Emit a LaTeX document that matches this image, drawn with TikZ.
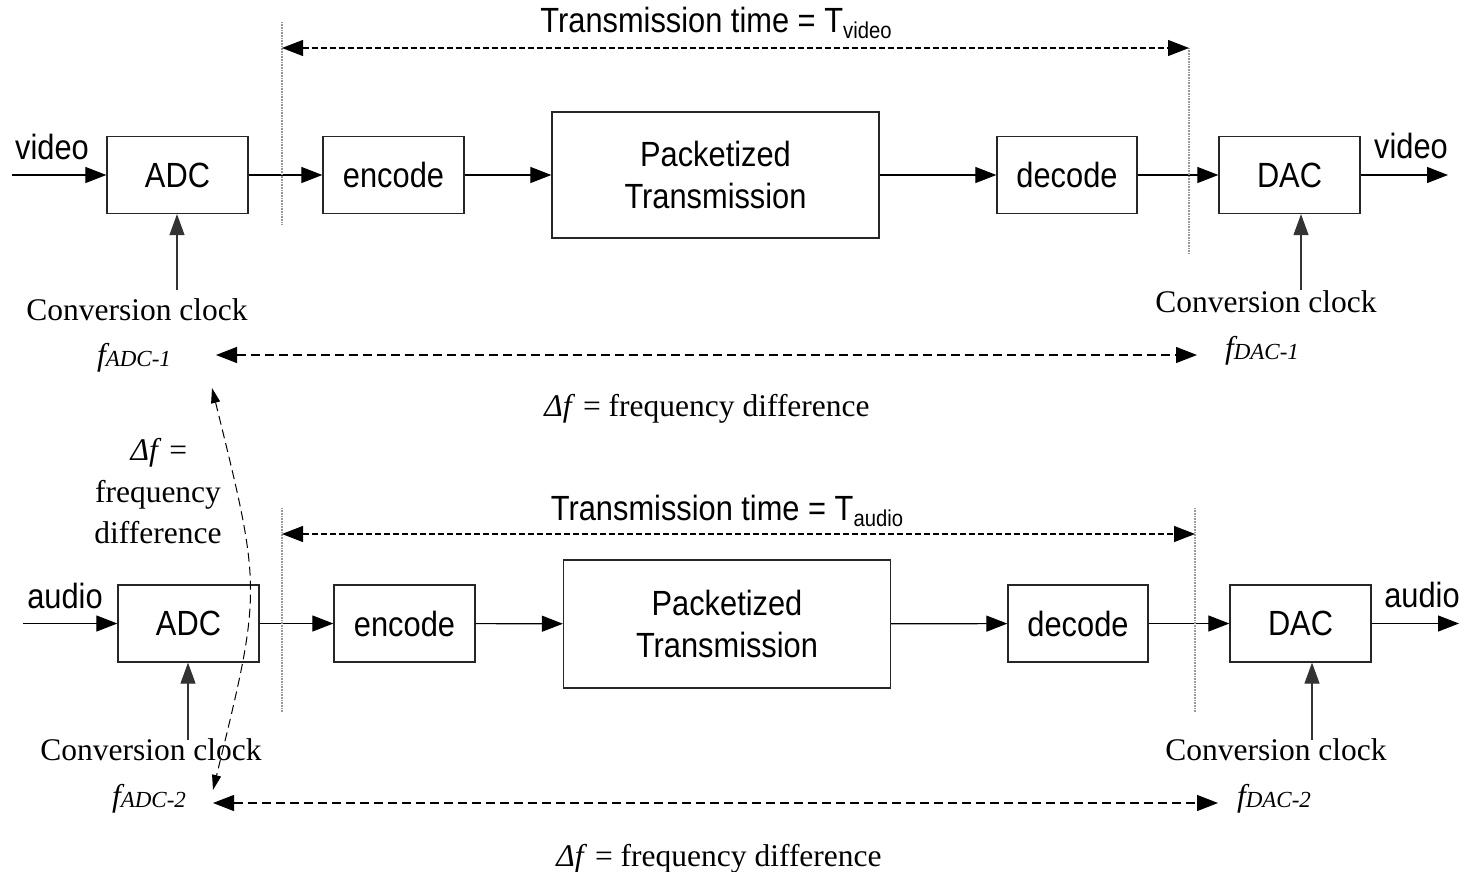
\documentclass[tikz,border=0pt]{standalone}
\usepackage{fontspec}
\setmainfont{Liberation Serif}
\setsansfont[FakeStretch=0.88]{Liberation Sans}
\usetikzlibrary{arrows.meta}
\begin{document}
\begin{tikzpicture}[x=1pt,y=-1pt,
  box/.style={draw=black!85, line width=1.3pt, minimum width=141pt, minimum height=77pt,
    font=\sffamily\fontsize{35}{42}\selectfont, inner sep=0pt, align=center},
  sig/.style={draw, line width=1.2pt, -{Triangle[length=21pt,width=16pt]}},
  clk/.style={draw=black!80, line width=1.2pt, -{Triangle[length=21pt,width=15pt]}},
  lab/.style={font=\sffamily\fontsize{35}{42}\selectfont, anchor=base, inner sep=0pt},
  ser/.style={font=\fontsize{31.5}{41}\selectfont, anchor=base, inner sep=0pt, align=center},
  tdash/.style={draw, line width=1.1pt, dash pattern=on 6pt off 3pt,
    {Triangle[length=21pt,width=16pt]}-{Triangle[length=21pt,width=16pt]}},
  fdash/.style={draw, line width=1.1pt, dash pattern=on 9pt off 5pt,
    {Triangle[length=21pt,width=16pt]}-{Triangle[length=21pt,width=16pt]}},
  cdash/.style={draw, line width=1pt, dash pattern=on 9pt off 5pt,
    {Triangle[length=15pt,width=9pt]}-{Triangle[length=15pt,width=9pt]}},
  vline/.style={draw=gray!80, line width=1.2pt, dash pattern=on 1pt off 0.6pt},
]
\useasboundingbox (0,0) rectangle (1466,872);

% ---------------- video row ----------------
\node[box] (adc1) at (177.5,175) {ADC};
\node[box] (enc1) at (393.5,175) {encode};
\node[box, minimum width=327pt, minimum height=126pt] (pkt1) at (715.5,175) {Packetized\\Transmission};
\node[box, minimum width=140pt] (dec1) at (1067,175) {decode};
\node[box] (dac1) at (1289.5,175) {DAC};

\coordinate (vin1) at (12,175);
\coordinate (vout1) at (1448,175);
\node[lab] (vlab1) at (52,159) {video};
\node[lab] (vlab2) at (1411,158) {video};
\draw[sig] (vin1) -- (adc1);
\draw[sig] (adc1) -- (enc1);
\draw[sig] (enc1) -- (pkt1);
\draw[sig] (pkt1) -- (dec1);
\draw[sig] (dec1) -- (dac1);
\draw[sig] (dac1) -- (vout1);

\coordinate (l1t) at (282,22);
\coordinate (l1b) at (282,225);
\coordinate (r1t) at (1189,48);
\coordinate (r1b) at (1189,253);
\draw[vline] (l1t) -- (l1b);
\draw[vline] (r1t) -- (r1b);
\coordinate (t1a) at (282,48);
\draw[tdash] (t1a) -- (r1t);
\node[lab] (tt1) at (716,33) {Transmission time = T\raisebox{-6pt}{\fontsize{23}{26}\selectfont video}};

\node[ser] (cc1) at (137,320) {Conversion clock};
\node[ser] (cc2) at (1266,312) {Conversion clock};
\coordinate (ck1) at (177,290);
\coordinate (ck2) at (1301,290);
\draw[clk] (ck1) -- (adc1.south -| ck1);
\draw[clk] (ck2) -- (dac1.south -| ck2);

\node[ser] (fa1) at (134,365) {\itshape f\raisebox{-1pt}{\fontsize{23}{26}\selectfont ADC-1}};
\node[ser] (fd1) at (1262,358) {\itshape f\raisebox{-1pt}{\fontsize{23}{26}\selectfont DAC-1}};
\coordinate (fa1e) at (216,355);
\coordinate (fd1e) at (1197,355);
\draw[fdash] (fa1e) -- (fd1e);
\node[ser] (df1) at (707,416) {\textit{Δf} = frequency difference};

% ---------------- audio row ----------------
\node[box] (adc2) at (188.5,623.5) {ADC};
\node[box] (enc2) at (404.5,623.5) {encode};
\node[box, minimum width=327pt, minimum height=128pt] (pkt2) at (727,624) {Packetized\\Transmission};
\node[box, minimum width=140pt] (dec2) at (1078,623.5) {decode};
\node[box] (dac2) at (1300.5,623.5) {DAC};

\coordinate (ain2) at (23,623.5);
\coordinate (aout2) at (1459,623.5);
\node[lab] (alab1) at (65,608) {audio};
\node[lab] (alab2) at (1422,607) {audio};
\draw[sig] (ain2) -- (adc2);
\draw[sig] (adc2) -- (enc2);
\draw[sig] (enc2) -- (pkt2);
\draw[sig] (pkt2) -- (dec2);
\draw[sig] (dec2) -- (dac2);
\draw[sig] (dac2) -- (aout2);

\coordinate (l2t) at (282,508);
\coordinate (l2b) at (282,712);
\coordinate (r2t) at (1195,508);
\coordinate (r2b) at (1195,712);
\draw[vline] (l2t) -- (l2b);
\draw[vline] (r2t) -- (r2b);
\coordinate (t2a) at (282,534);
\coordinate (t2b) at (1195,534);
\draw[tdash] (t2a) -- (t2b);
\node[lab] (tt2) at (727,520) {Transmission time = T\raisebox{-6pt}{\fontsize{23}{26}\selectfont audio}};

\node[ser] (cc3) at (151,760) {Conversion clock};
\node[ser] (cc4) at (1276,760) {Conversion clock};
\coordinate (ck3) at (188,740);
\coordinate (ck4) at (1312,740);
\draw[clk] (ck3) -- (adc2.south -| ck3);
\draw[clk] (ck4) -- (dac2.south -| ck4);

\node[ser] (fa2) at (149,806) {\itshape f\raisebox{-1pt}{\fontsize{23}{26}\selectfont ADC-2}};
\node[ser] (fd2) at (1274,806) {\itshape f\raisebox{-1pt}{\fontsize{23}{26}\selectfont DAC-2}};
\coordinate (fa2e) at (213,803);
\coordinate (fd2e) at (1218,803);
\draw[fdash] (fa2e) -- (fd2e);
\node[ser] (df2) at (719,866) {\textit{Δf} = frequency difference};

% ---------------- curved frequency-difference arrow ----------------
\coordinate (ca) at (212,388);
\coordinate (cb) at (213,790);
\coordinate (cc) at (262,590);
\draw[cdash] (ca) .. controls (cc) .. (cb);
\node[ser] (dfl1) at (159,460) {\textit{Δf} =};
\node[ser] (dfl2) at (158,502) {frequency};
\node[ser] (dfl3) at (158,543) {difference};
\end{tikzpicture}
\end{document}
